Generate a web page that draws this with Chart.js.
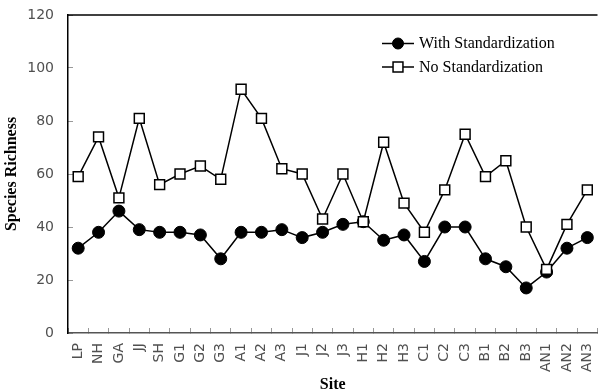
<!DOCTYPE html>
<html>
<head>
<meta charset="utf-8">
<script src="https://cdn.jsdelivr.net/npm/chart.js@4/dist/chart.umd.min.js"></script>
<style>
  html, body { margin: 0; padding: 0; background: #fff; overflow: hidden; }
  #wrap { width: 606px; height: 390px; }
</style>
</head>
<body>
<div id="wrap"><canvas id="c" width="606" height="390"></canvas></div>
<script>
// Sampling sites along the x axis
const sites = ['LP','NH','GA','JJ','SH','G1','G2','G3','A1','A2','A3','J1','J2','J3',
               'H1','H2','H3','C1','C2','C3','B1','B2','B3','AN1','AN2','AN3'];

// Species richness per site
const withStandardization = [32,38,46,39,38,38,37,28,38,38,39,36,38,41,
                             42,35,37,27,40,40,28,25,17,23,32,36];
const noStandardization   = [59,74,51,81,56,60,63,58,92,81,62,60,43,60,
                             42,72,49,38,54,75,59,65,40,24,41,54];

const yTicks = [0, 20, 40, 60, 80, 100, 120];

const seriesNames = ['With Standardization', 'No Standardization'];

// Top frame line and the in-plot legend
const framePlugin = {
  id: 'frameAndLegend',
  afterDraw(chart) {
    const ctx = chart.ctx;
    const a = chart.chartArea;
    ctx.save();
    ctx.strokeStyle = '#000';
    ctx.lineWidth = 1.5;
    ctx.beginPath();
    ctx.moveTo(a.left - 0.5, a.top);
    ctx.lineTo(a.right, a.top);
    ctx.stroke();

    const rows = [
      { ds: chart.data.datasets[0], y: 43.5, r: 5.5 },
      { ds: chart.data.datasets[1], y: 67, r: 7 }
    ];
    const x0 = 382, x1 = 414, xm = 398, xt = 419;
    ctx.font = '16px "Liberation Serif", "Times New Roman", serif';
    ctx.textBaseline = 'middle';
    ctx.textAlign = 'left';
    rows.forEach(row => {
      ctx.strokeStyle = '#000';
      ctx.lineWidth = 1.5;
      ctx.beginPath();
      ctx.moveTo(x0, row.y);
      ctx.lineTo(x1, row.y);
      ctx.stroke();
      ctx.fillStyle = row.ds.pointBackgroundColor;
      ctx.strokeStyle = '#000';
      ctx.lineWidth = row.ds.pointBorderWidth;
      Chart.helpers.drawPoint(ctx, { pointStyle: row.ds.pointStyle, radius: row.r, rotation: 0, borderWidth: row.ds.pointBorderWidth }, xm, row.y);
      ctx.fillStyle = '#000';
      ctx.fillText(row.ds.label, xt, row.y + 0.5);
    });
    ctx.restore();
  }
};

new Chart(document.getElementById('c'), {
  type: 'line',
  data: {
    labels: sites,
    datasets: [
      {
        label: seriesNames[0],
        data: withStandardization,
        borderColor: '#000',
        borderWidth: 1.5,
        pointStyle: 'circle',
        pointRadius: 6,
        pointBackgroundColor: '#000',
        pointBorderColor: '#000',
        pointBorderWidth: 1,
        tension: 0,
        order: 2
      },
      {
        label: seriesNames[1],
        data: noStandardization,
        borderColor: '#000',
        borderWidth: 1.5,
        pointStyle: 'rect',
        pointRadius: 7,
        pointBackgroundColor: '#fff',
        pointBorderColor: '#000',
        pointBorderWidth: 1.5,
        tension: 0,
        order: 1
      }
    ]
  },
  options: {
    responsive: false,
    animation: false,
    devicePixelRatio: 1,
    layout: { padding: { top: 15, right: 0, left: 0, bottom: 0 } },
    plugins: { legend: { display: false }, tooltip: { enabled: false } },
    scales: {
      x: {
        offset: true,
        afterFit(scale) {
          scale.height = 57;
          scale.paddingLeft = 0;
          scale.paddingRight = 0;
        },
        grid: {
          offset: true,
          drawOnChartArea: false,
          drawTicks: true,
          tickLength: -5,
          color: '#999'
        },
        border: { color: '#555', width: 1.5 },
        ticks: {
          minRotation: 90,
          maxRotation: 90,
          autoSkip: false,
          padding: 15,
          color: '#505050',
          font: { family: '"DejaVu Sans", sans-serif', size: 14 }
        },
        title: {
          display: true,
          text: 'Site',
          color: '#000',
          padding: 0,
          font: { family: '"Liberation Serif", "Times New Roman", serif', size: 16, weight: 'bold', lineHeight: 0.6 }
        }
      },
      y: {
        min: 0,
        max: 120,
        afterFit(scale) {
          scale.width = 68;
          scale.paddingTop = 0;
          scale.paddingBottom = 0;
        },
        afterBuildTicks(scale) { scale.ticks = yTicks.map(v => ({ value: v })); },
        grid: {
          drawOnChartArea: false,
          drawTicks: true,
          tickLength: -5,
          color: '#999'
        },
        border: { color: '#000', width: 1.5 },
        ticks: {
          padding: 19,
          color: '#505050',
          font: { family: '"DejaVu Sans", sans-serif', size: 14 }
        },
        title: {
          display: true,
          text: 'Species Richness',
          color: '#000',
          padding: { top: 2, bottom: 0 },
          font: { family: '"Liberation Serif", "Times New Roman", serif', size: 16, weight: 'bold', lineHeight: 1.2 }
        }
      }
    }
  },
  plugins: [framePlugin]
});
</script>
</body>
</html>
